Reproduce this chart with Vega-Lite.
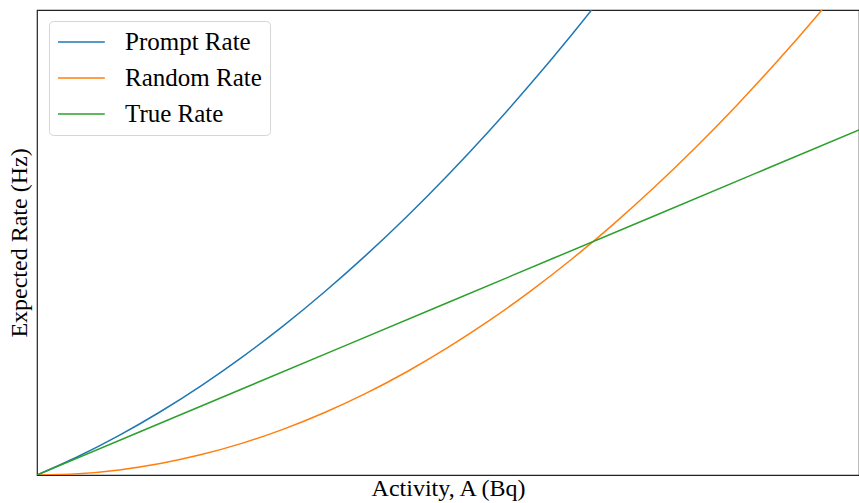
{
  "$schema": "https://vega.github.io/schema/vega-lite/v6.json",
  "width": 822,
  "height": 465,
  "autosize": {"type": "none"},
  "padding": {"left": 37, "top": 10, "right": 0, "bottom": 28},
  "background": "white",
  "config": {
    "view": {"stroke": "#222", "strokeWidth": 1.2},
    "font": "Liberation Serif"
  },
  "data": {
    "values": [
      {"A": 0, "rate": 0, "series": "Prompt Rate"},
      {"A": 0.05, "rate": 0.0398, "series": "Prompt Rate"},
      {"A": 0.1, "rate": 0.0852, "series": "Prompt Rate"},
      {"A": 0.15, "rate": 0.136, "series": "Prompt Rate"},
      {"A": 0.2, "rate": 0.1923, "series": "Prompt Rate"},
      {"A": 0.25, "rate": 0.2541, "series": "Prompt Rate"},
      {"A": 0.3, "rate": 0.3213, "series": "Prompt Rate"},
      {"A": 0.35, "rate": 0.3941, "series": "Prompt Rate"},
      {"A": 0.4, "rate": 0.4723, "series": "Prompt Rate"},
      {"A": 0.45, "rate": 0.556, "series": "Prompt Rate"},
      {"A": 0.5, "rate": 0.6453, "series": "Prompt Rate"},
      {"A": 0.55, "rate": 0.7399, "series": "Prompt Rate"},
      {"A": 0.6, "rate": 0.8401, "series": "Prompt Rate"},
      {"A": 0.65, "rate": 0.9458, "series": "Prompt Rate"},
      {"A": 0.7, "rate": 1.0569, "series": "Prompt Rate"},
      {"A": 0.75, "rate": 1.1736, "series": "Prompt Rate"},
      {"A": 0, "rate": 0, "series": "Random Rate"},
      {"A": 0.05, "rate": 0.0027, "series": "Random Rate"},
      {"A": 0.1, "rate": 0.011, "series": "Random Rate"},
      {"A": 0.15, "rate": 0.0247, "series": "Random Rate"},
      {"A": 0.2, "rate": 0.0439, "series": "Random Rate"},
      {"A": 0.25, "rate": 0.0686, "series": "Random Rate"},
      {"A": 0.3, "rate": 0.0987, "series": "Random Rate"},
      {"A": 0.35, "rate": 0.1344, "series": "Random Rate"},
      {"A": 0.4, "rate": 0.1755, "series": "Random Rate"},
      {"A": 0.45, "rate": 0.2221, "series": "Random Rate"},
      {"A": 0.5, "rate": 0.2743, "series": "Random Rate"},
      {"A": 0.55, "rate": 0.3318, "series": "Random Rate"},
      {"A": 0.6, "rate": 0.3949, "series": "Random Rate"},
      {"A": 0.65, "rate": 0.4635, "series": "Random Rate"},
      {"A": 0.7, "rate": 0.5375, "series": "Random Rate"},
      {"A": 0.75, "rate": 0.6171, "series": "Random Rate"},
      {"A": 0.8, "rate": 0.7021, "series": "Random Rate"},
      {"A": 0.85, "rate": 0.7926, "series": "Random Rate"},
      {"A": 0.9, "rate": 0.8886, "series": "Random Rate"},
      {"A": 0.95, "rate": 0.99, "series": "Random Rate"},
      {"A": 1.0, "rate": 1.097, "series": "Random Rate"},
      {"A": 0, "rate": 0, "series": "True Rate"},
      {"A": 0.25, "rate": 0.1855, "series": "True Rate"},
      {"A": 0.5, "rate": 0.371, "series": "True Rate"},
      {"A": 0.75, "rate": 0.5565, "series": "True Rate"},
      {"A": 1.0, "rate": 0.742, "series": "True Rate"}
    ]
  },
  "mark": {"type": "line", "clip": true, "strokeWidth": 1.5, "interpolate": "monotone"},
  "encoding": {
    "x": {
      "field": "A", "type": "quantitative",
      "scale": {"domain": [0, 1], "nice": false, "zero": false},
      "axis": {"title": "Activity, A (Bq)", "ticks": false, "labels": false, "grid": false, "domain": false,
        "titleFont": "Liberation Serif", "titleFontSize": 24, "titleFontWeight": "normal", "titleColor": "black", "titlePadding": 1}
    },
    "y": {
      "field": "rate", "type": "quantitative",
      "scale": {"domain": [0, 1], "nice": false, "zero": false},
      "axis": {"title": "Expected Rate (Hz)", "ticks": false, "labels": false, "grid": false, "domain": false,
        "titleFont": "Liberation Serif", "titleFontSize": 24, "titleFontWeight": "normal", "titleColor": "black", "titlePadding": 6}
    },
    "color": {
      "field": "series", "type": "nominal",
      "scale": {"domain": ["Prompt Rate", "Random Rate", "True Rate"], "range": ["#1f77b4", "#ff7f0e", "#2ca02c"]},
      "legend": {
        "title": null,
        "orient": "none",
        "legendX": 12,
        "legendY": 11,
        "symbolType": "M-1,0H2.9",
        "symbolSize": 576,
        "symbolStrokeWidth": 1.5,
        "labelFont": "Liberation Serif",
        "labelFontSize": 25,
        "labelColor": "black",
        "labelOffset": 42,
        "padding": 8,
        "rowPadding": 10,
        "fillColor": "white",
        "strokeColor": "#d5d5d5",
        "cornerRadius": 4
      }
    }
  }
}
